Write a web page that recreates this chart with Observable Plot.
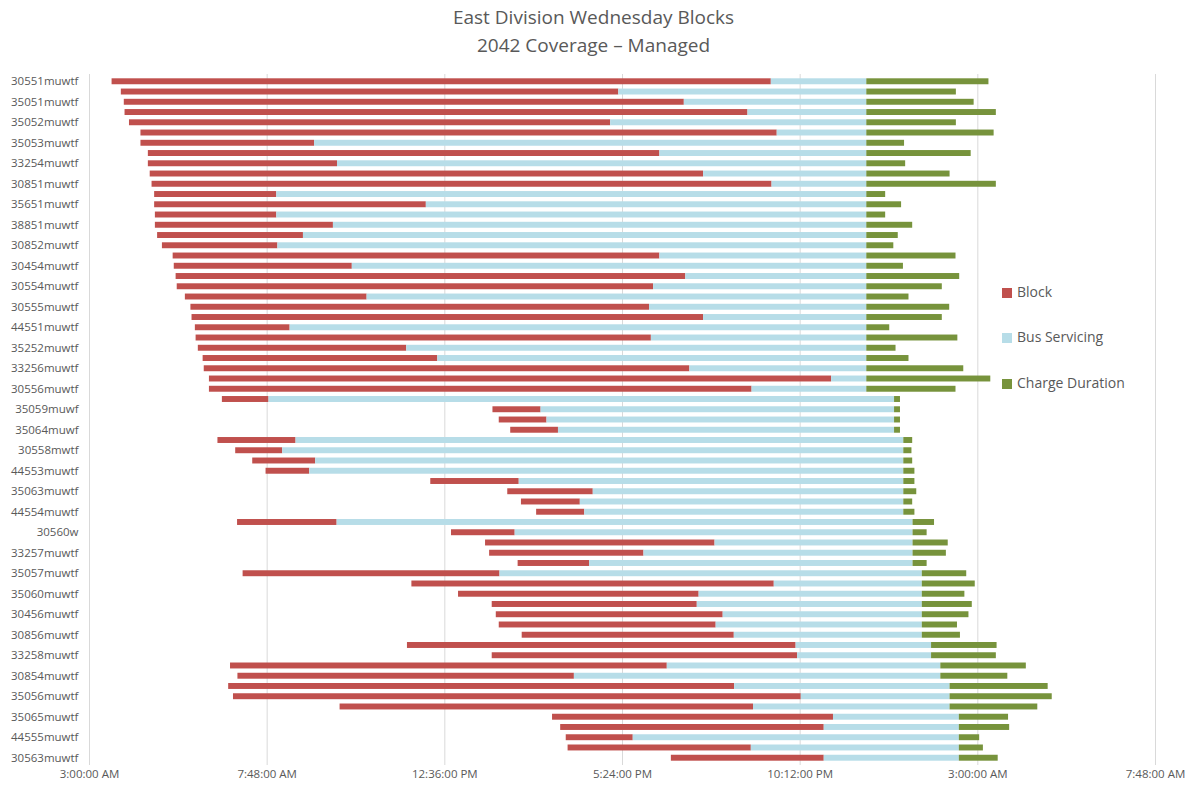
<!DOCTYPE html>
<html><head><meta charset="utf-8">
<script src="https://cdn.jsdelivr.net/npm/d3@7"></script>
<script src="https://cdn.jsdelivr.net/npm/@observablehq/plot@0.6"></script>
<style>
body{margin:0;background:#fff;font-family:"Open Sans",sans-serif;}
#wrap{position:relative;width:1187px;height:786px;overflow:hidden;}
#title{position:absolute;top:3px;left:0;width:1187px;text-align:center;color:#595959;font-size:19px;line-height:28px;}
#chart{position:absolute;top:60px;left:0;}
.leg{position:absolute;left:1002px;font-size:14px;color:#595959;line-height:18px;white-space:nowrap;}
.leg span{display:inline-block;width:10px;height:10px;margin-right:5px;vertical-align:-1px;}
</style></head>
<body><div id="wrap">
<div id="title">East Division Wednesday Blocks<br>2042 Coverage – Managed</div>
<div id="chart"></div>
<div id="legend"></div>
</div>
<script>
// Series
const seriesNames = ["Block", "Bus Servicing", "Charge Duration"];
const seriesColors = ["#c0504d", "#b7dde8", "#77933c"];

// Labelled rows (every other row carries a label)
const rowLabels = ["30551muwtf","35051muwtf","35052muwtf","35053muwtf","33254muwtf","30851muwtf","35651muwtf","38851muwtf","30852muwtf","30454muwtf","30554muwtf","30555muwtf","44551muwtf","35252muwtf","33256muwtf","30556muwtf","35059muwf","35064muwf","30558mwtf","44553muwtf","35063muwtf","44554muwtf","30560w","33257muwtf","35057muwtf","35060muwtf","30456muwtf","30856muwtf","33258muwtf","30854muwtf","35056muwtf","35065muwtf","44555muwtf","30563muwtf"];

// Times in hours after Wednesday midnight (values > 24 are the next day)
const blockStart = [3.61,3.86,3.94,3.96,4.08,4.39,4.39,4.59,4.59,4.64,4.69,4.76,4.76,4.78,4.78,4.84,4.97,5.26,5.29,5.34,5.37,5.59,5.74,5.77,5.86,5.88,5.94,6.07,6.10,6.24,6.24,6.59,13.90,14.07,14.38,6.47,6.95,7.41,7.77,12.22,14.30,14.67,15.08,7.00,12.78,13.70,13.81,14.58,7.15,11.71,12.97,13.88,13.99,14.07,14.69,11.59,13.88,6.81,7.01,6.76,6.89,9.77,15.51,15.73,15.88,15.93,18.72];
const blockEnd = [21.42,17.30,19.07,20.79,17.08,21.58,9.08,18.41,9.70,19.59,21.44,8.06,12.10,8.06,9.59,8.78,8.09,18.41,10.10,19.11,18.24,10.50,18.13,19.59,8.42,18.18,11.57,12.41,19.22,23.05,20.90,7.85,15.20,15.36,15.67,8.58,8.22,9.11,8.95,14.61,16.61,16.26,16.38,9.69,14.50,19.90,17.98,16.51,14.09,21.50,19.47,19.42,20.12,19.93,20.42,22.09,22.13,18.61,16.10,20.43,22.23,20.94,23.10,22.85,17.69,20.88,22.85];
const servicingEnd = [24,24,24,24,24,24,24,24,24,24,24,24,24,24,24,24,24,24,24,24,24,24,24,24,24,24,24,24,24,24,24,24.75,24.75,24.75,24.75,25,25,25,25,25,25,25,25,25.25,25.25,25.25,25.25,25.25,25.5,25.5,25.5,25.5,25.5,25.5,25.5,25.75,25.75,26,26,26.25,26.25,26.25,26.5,26.5,26.5,26.5,26.5];
const chargeEnd = [27.30,26.42,26.90,27.50,26.42,27.44,25.02,26.82,25.05,26.25,27.50,24.51,24.94,24.51,25.24,24.85,24.73,26.41,24.99,26.51,26.04,25.14,26.24,26.04,24.62,26.46,24.79,25.14,26.62,27.35,26.41,24.91,24.91,24.91,24.91,25.24,25.22,25.24,25.30,25.30,25.35,25.24,25.30,25.83,25.63,26.20,26.15,25.63,26.70,26.93,26.65,26.85,26.76,26.45,26.53,27.52,27.50,28.31,27.81,28.90,29.01,28.62,27.83,27.86,27.05,27.15,27.55];

// Axis ticks
const xTicks = [3, 7.8, 12.6, 17.4, 22.2, 27, 31.8];
const xTickLabels = ["3:00:00 AM","7:48:00 AM","12:36:00 PM","5:24:00 PM","10:12:00 PM","3:00:00 AM","7:48:00 AM"];

const rows = d3.range(blockStart.length);
const segments = rows.flatMap(i => [
  {row: i, series: seriesNames[0], x1: blockStart[i], x2: blockEnd[i]},
  {row: i, series: seriesNames[1], x1: blockEnd[i], x2: servicingEnd[i]},
  {row: i, series: seriesNames[2], x1: servicingEnd[i], x2: chargeEnd[i]}
]);

const chart = Plot.plot({
  width: 1187, height: 726,
  marginLeft: 89, marginRight: 32, marginTop: 14, marginBottom: 21,
  style: {fontFamily: "Open Sans", fontSize: "11.5px", color: "#595959", background: "transparent"},
  x: {domain: [3, 31.8], ticks: xTicks, tickFormat: d => xTickLabels[xTicks.indexOf(d)], tickSize: 0, tickPadding: 4, label: null},
  y: {domain: rows, ticks: d3.range(0, rows.length, 2), tickFormat: i => rowLabels[i / 2], tickSize: 0, tickPadding: 11, label: null, padding: 0.42, round: false},
  color: {domain: seriesNames, range: seriesColors},
  marks: [
    Plot.ruleX(xTicks, {stroke: "#d9d9d9", strokeWidth: 1}),
    Plot.barX(segments, {y: "row", x1: "x1", x2: "x2", fill: "series"})
  ]
});
document.getElementById("chart").appendChild(chart);

const legendTops = [283, 328, 374];
const leg = document.getElementById("legend");
seriesNames.forEach((n, i) => {
  const d = document.createElement("div");
  d.className = "leg";
  d.style.top = legendTops[i] + "px";
  d.innerHTML = `<span style="background:${seriesColors[i]}"></span>${n}`;
  leg.appendChild(d);
});
</script>
</body></html>
